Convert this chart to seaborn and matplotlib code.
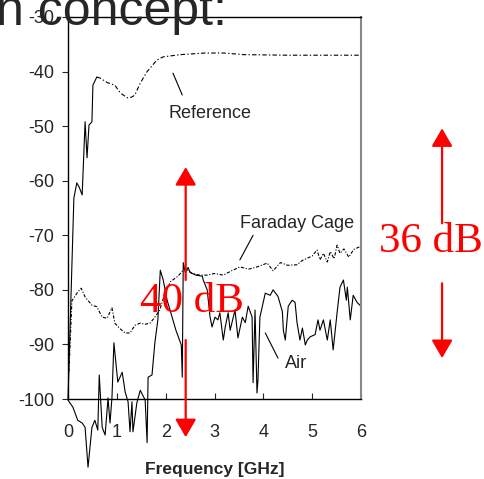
import numpy as np
import pandas as pd
import matplotlib
matplotlib.use("Agg")
import matplotlib.pyplot as plt
import seaborn as sns

# frequency in GHz, level in dB
ref_f = [0.00, 0.12, 0.18, 0.23, 0.29, 0.35, 0.39, 0.43, 0.49, 0.51, 0.59,
         0.66, 0.80, 0.96, 1.07, 1.21, 1.30, 1.37, 1.48, 1.62, 1.82, 1.95,
         2.30, 2.80, 3.20, 3.60, 4.50, 6.00]
ref_db = [-100.0, -63.2, -60.4, -61.2, -62.6, -49.2, -55.8, -49.8, -49.2, -42.5, -41.0,
          -41.2, -42.0, -42.5, -43.9, -44.8, -44.7, -44.3, -42.1, -40.0, -37.9, -37.3,
          -36.9, -36.6, -36.6, -36.9, -37.0, -37.0]
REF_SOLID_END = 11  # first points look solid (steep rise)

cage_f = [0.02, 0.08, 0.20, 0.27, 0.35, 0.49, 0.59, 0.70, 0.80, 0.90, 0.96,
          1.05, 1.17, 1.27, 1.37, 1.48, 1.58, 1.68, 1.78, 1.88, 1.97, 2.10,
          2.25, 2.40, 2.54, 2.70, 2.85, 3.00, 3.18, 3.35, 3.52, 3.70, 3.87,
          4.08, 4.20, 4.35, 4.50, 4.69, 4.80, 4.90, 5.00, 5.10, 5.16, 5.23,
          5.31, 5.37, 5.45, 5.51, 5.57, 5.65, 5.75, 5.85, 6.00]
cage_db = [-95.0, -82.0, -80.4, -79.7, -81.3, -82.8, -83.1, -85.0, -85.2, -83.3, -86.1,
           -87.0, -87.9, -87.9, -86.5, -86.1, -86.3, -86.1, -85.0, -83.7, -81.0, -78.5,
           -77.5, -76.0, -77.0, -77.3, -77.3, -77.0, -77.3, -76.5, -75.8, -76.2, -75.8,
           -75.1, -76.5, -75.0, -75.5, -75.4, -74.6, -74.2, -73.8, -72.7, -74.5, -73.3,
           -74.9, -73.0, -74.3, -71.8, -73.3, -72.5, -74.0, -72.6, -72.0]

air_f = [0.00, 0.10, 0.20, 0.29, 0.35, 0.41, 0.49, 0.55, 0.61, 0.64, 0.70,
         0.76, 0.82, 0.86, 0.90, 0.94, 1.02, 1.11, 1.17, 1.23, 1.27, 1.31,
         1.33, 1.41, 1.48, 1.58, 1.62, 1.64, 1.72, 1.78, 1.84, 1.89, 1.95,
         2.03, 2.09, 2.21, 2.32, 2.34, 2.36, 2.40, 2.46, 2.50, 2.62, 2.75,
         2.77, 2.85, 2.91, 2.95, 3.01, 3.07, 3.11, 3.18, 3.22, 3.28, 3.32,
         3.42, 3.48, 3.57, 3.63, 3.69, 3.77, 3.79, 3.83, 3.87, 3.89, 3.93,
         4.04, 4.14, 4.20, 4.30, 4.39, 4.41, 4.45, 4.51, 4.59, 4.65, 4.69,
         4.75, 4.80, 4.86, 4.90, 4.96, 5.06, 5.12, 5.16, 5.23, 5.31, 5.37,
         5.43, 5.51, 5.57, 5.64, 5.70, 5.72, 5.78, 5.84, 5.92, 6.00]
air_db = [-100.2, -101.5, -103.9, -104.4, -105.2, -112.5, -105.2, -103.9, -105.7, -95.6, -105.2,
          -106.6, -99.8, -104.4, -99.8, -89.7, -96.9, -95.1, -98.7, -100.5, -106.0, -100.5,
          -106.0, -100.7, -98.4, -100.2, -108.0, -96.0, -95.6, -89.6, -85.5, -76.4, -78.2,
          -81.9, -83.7, -87.4, -90.1, -96.0, -75.0, -76.8, -75.9, -76.8, -77.3, -77.5,
          -78.2, -80.0, -85.0, -86.8, -85.0, -85.5, -84.2, -89.2, -86.8, -84.2, -87.4,
          -83.7, -88.8, -85.0, -86.0, -83.0, -85.0, -97.0, -83.7, -98.9, -96.5, -85.0,
          -80.6, -81.0, -80.0, -81.2, -84.0, -87.4, -89.2, -83.0, -81.9, -82.3, -86.0,
          -89.2, -87.0, -90.1, -89.2, -88.6, -88.2, -85.5, -87.4, -85.5, -89.2, -85.5,
          -91.0, -84.2, -79.5, -78.2, -81.9, -79.5, -85.5, -81.0, -82.3, -83.0]

x_ticks = [0, 1, 2, 3, 4, 5, 6]
y_ticks = [-100, -90, -80, -70, -60, -50, -40, -30]

sns.set_style("ticks")
plt.rcParams["font.family"] = ["Liberation Sans", "DejaVu Sans"]

fig = plt.figure(figsize=(4.84, 4.79), dpi=100)
ax = fig.add_axes([68 / 484, 1 - 399 / 479, 293 / 484, 382 / 479])

ref = pd.DataFrame({"f": ref_f, "db": ref_db})
cage = pd.DataFrame({"f": cage_f, "db": cage_db})
air = pd.DataFrame({"f": air_f, "db": air_db})

lw = 0.8
sns.lineplot(data=ref.iloc[:REF_SOLID_END], x="f", y="db", ax=ax, color="black",
             lw=lw, sort=False, estimator=None, clip_on=False)
sns.lineplot(data=ref.iloc[REF_SOLID_END - 1:], x="f", y="db", ax=ax, color="black",
             lw=lw, sort=False, estimator=None, clip_on=False,
             linestyle=(0, (4, 2, 1.2, 2)))
sns.lineplot(data=cage, x="f", y="db", ax=ax, color="black", lw=lw, sort=False,
             estimator=None, clip_on=False, linestyle=(0, (3, 1.5, 1, 1.5)))
sns.lineplot(data=air, x="f", y="db", ax=ax, color="black", lw=lw, sort=False,
             estimator=None, clip_on=False)

ax.set_xlim(0, 6)
ax.set_ylim(-100, -30)
ax.set_xticks(x_ticks)
ax.set_yticks(y_ticks)
ax.set_xticklabels([str(t) for t in x_ticks], fontsize=13)
ax.set_yticklabels([str(t) for t in y_ticks], fontsize=13)
ax.tick_params(axis="x", direction="in", length=4, width=0.8, pad=18)
ax.tick_params(axis="y", direction="out", length=4, width=0.8, pad=6)
ax.set_xlabel("Frequency [GHz]", fontsize=12.5, fontweight="bold", labelpad=15)
ax.set_ylabel("")
for side in ["left", "bottom", "top"]:
    ax.spines[side].set_visible(True)
    ax.spines[side].set_color("black")
    ax.spines[side].set_linewidth(1.0)
ax.spines["right"].set_visible(True)
ax.spines["right"].set_color("#888888")
ax.spines["right"].set_linewidth(1.5)

# curve labels with leader lines
ax.text(2.91, -48.5, "Reference", fontsize=13, ha="center", va="baseline")
ax.plot([2.15, 2.34], [-40.3, -44.3], color="black", lw=0.8)
ax.text(4.69, -68.7, "Faraday Cage", fontsize=13, ha="center", va="baseline")
ax.plot([3.79, 3.52], [-70.0, -74.5], color="black", lw=0.8)
ax.text(4.67, -94.3, "Air", fontsize=13, ha="center", va="baseline")
ax.plot([4.04, 4.30], [-87.9, -92.5], color="black", lw=0.8)

# red dB arrows
red = "#ff0000"
arrow = dict(arrowstyle="-|>,head_length=0.55,head_width=0.32", color=red, lw=1.6,
             mutation_scale=20, shrinkA=0, shrinkB=0)
for x0, y_from, y_to in [(2.41, -78.2, -57.5), (2.41, -89.2, -107.0),
                         (7.66, -67.8, -50.4), (7.66, -78.8, -92.5)]:
    ax.annotate("", xy=(x0, y_to), xytext=(x0, y_from), arrowprops=arrow,
                annotation_clip=False)
ax.text(2.53, -84.0, "40 dB", color=red, fontsize=31, family="Liberation Serif",
        ha="center", va="baseline", clip_on=False)
ax.text(7.44, -73.0, "36 dB", color=red, fontsize=31, family="Liberation Serif",
        ha="center", va="baseline", clip_on=False)

# slide title peeking in at the top
fig.text(-4 / 484, 1 - 25 / 479, "n concept:", fontsize=36, ha="left", va="baseline",
         zorder=10)

fig.savefig("out.png", dpi=100)
